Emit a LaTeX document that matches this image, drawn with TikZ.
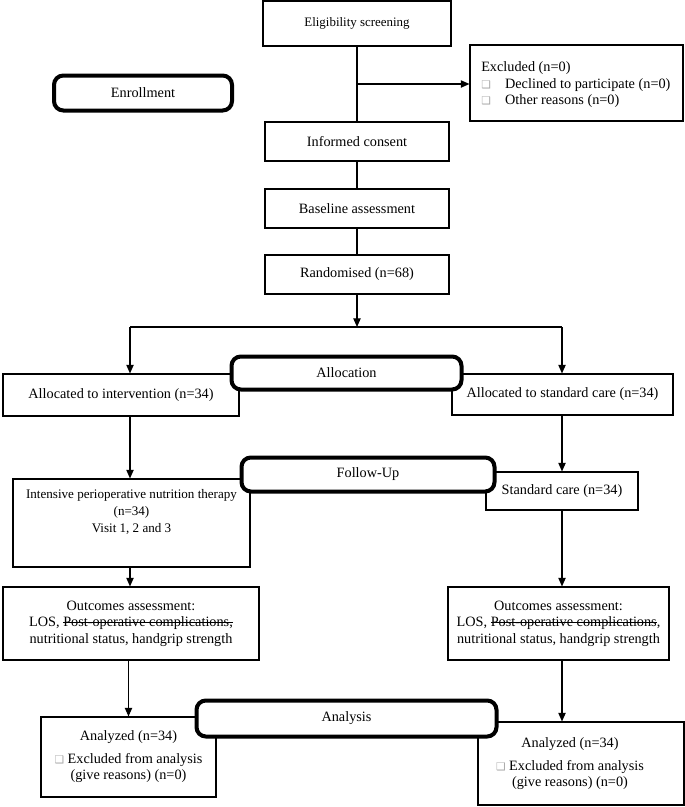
\documentclass[tikz,border=0pt]{standalone}
\usepackage{fontspec}
\setmainfont{Liberation Serif}
\newfontfamily\symfont{DejaVu Sans}
\usetikzlibrary{arrows.meta}
\newcommand\chk{{\symfont\color{gray!70}\fontsize{8}{8}\selectfont ❑}}
\newcommand\strk[1]{\setbox0\hbox{#1}\rlap{\rule[0.3em]{\wd0}{0.45pt}}\box0}

\tikzset{
  box/.style={draw, line width=0.8pt, fill=white, inner sep=0pt, align=center},
  stage/.style={draw, line width=3pt, rounded corners=7pt, fill=white, inner sep=0pt},
  link/.style={line width=0.9pt},
  arr/.style={link, -{Triangle[length=6.5pt,width=5.5pt]}}
}

\begin{document}
\begin{tikzpicture}[x=0.75pt, y=-0.75pt, font=\fontsize{10.7}{12.4}\selectfont]
\useasboundingbox (0,0) rectangle (685,807);
\node[box, minimum width=141pt, minimum height=33.75pt, font=\fontsize{9.7}{11.6}\selectfont] (elig) at (357,23.5) {Eligibility screening};
\node[box, minimum width=159.75pt, minimum height=57pt] (excl) at (576.5,83) {};
\node[anchor=west, align=left, inner sep=0pt] (excltxt) at (481,85) {Excluded (n=0)\\ \chk\quad Declined to participate (n=0)\\ \chk\quad Other reasons (n=0)};
\node[box, minimum width=138pt, minimum height=29.25pt] (consent) at (357,141.5) {Informed consent};
\node[box, minimum width=138pt, minimum height=29.25pt] (base) at (357,208.5) {Baseline assessment};
\node[box, minimum width=138pt, minimum height=29.25pt] (rand) at (357,274.5) {Randomised (n=68)};
\coordinate (branch) at (357,84);
\coordinate (split) at (357,327);
\coordinate (colL) at (130,327);
\coordinate (colR) at (562,327);
\node[box, minimum width=177pt, minimum height=31.5pt] (intA) at (121,395) {Allocated to intervention (n=34)};
\node[box, minimum width=165.75pt, minimum height=30.75pt] (stdA) at (562.5,394.5) {Allocated to standard care (n=34)};
\node[box, minimum width=177.75pt, minimum height=66pt] (ther) at (131.5,523) {};
\node[align=center, inner sep=0pt, font=\fontsize{9.8}{12.75}\selectfont] (thertxt) at (131.5,512) {Intensive perioperative nutrition therapy\\(n=34)\\Visit 1, 2 and 3};
\node[box, minimum width=114pt, minimum height=28.5pt] (stdc) at (562,491) {Standard care (n=34)};
\node[box, minimum width=192pt, minimum height=54.75pt] (outL) at (131,623.5) {Outcomes assessment:\\LOS, \strk{Post-operative complications,}\\nutritional status, handgrip strength};
\node[box, minimum width=165.75pt, minimum height=54.75pt] (outR) at (558.5,623.5) {Outcomes assessment:\\LOS, \strk{Post-operative complications},\\nutritional status, handgrip strength};
\node[box, minimum width=131.25pt, minimum height=60pt] (anL) at (128.5,757) {Analyzed (n=34)\\[4.5pt] \chk\ Excluded from analysis\\(give reasons) (n=0)};
\node[box, minimum width=154.5pt, minimum height=62.25pt] (anR) at (581,763.5) {};
\node[align=center, inner sep=0pt] (anRtxt) at (570,764) {Analyzed (n=34)\\[4.5pt] \chk\ Excluded from analysis\\(give reasons) (n=0)};
\draw[link] (elig) -- (consent);
\draw[arr] (branch) -- (branch -| excl.west);
\draw[link] (consent) -- (base);
\draw[link] (base) -- (rand);
\draw[arr] (rand) -- (split);
\draw[link] (colL) -- (colR);
\draw[arr] (colL) -- (colL |- intA.north);
\draw[arr] (colR) -- (colR |- stdA.north);
\draw[arr] (colL |- intA.south) -- (colL |- ther.north);
\draw[arr] (colR |- stdA.south) -- (colR |- stdc.north);
\draw[arr] (colL |- ther.south) -- (colL |- outL.north);
\draw[arr] (colR |- stdc.south) -- (colR |- outR.north);
\draw[arr] (anL |- outL.south) -- (anL.north);
\draw[arr] (colR |- outR.south) -- (colR |- anR.north);
\node[stage, minimum width=133.5pt, minimum height=26.25pt] (enrol) at (143,93) {Enrollment};
\node[stage, minimum width=172.5pt, minimum height=24.75pt] (alloc) at (346.5,373) {Allocation};
\node[stage, minimum width=189.75pt, minimum height=25.5pt] (follow) at (368,474.5) {Follow-Up};
\node[stage, minimum width=225pt, minimum height=27pt] (anal) at (346.5,718.5) {Analysis};
\end{tikzpicture}
\end{document}
